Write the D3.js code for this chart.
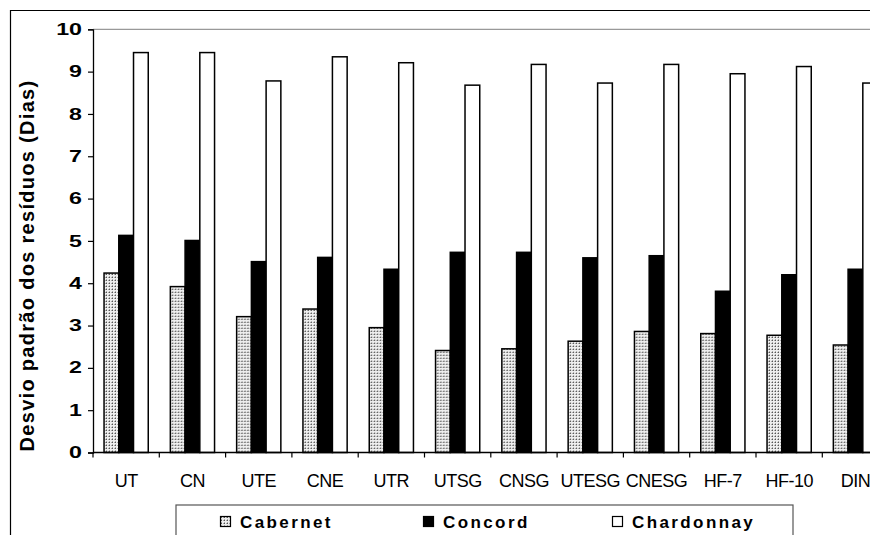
<!DOCTYPE html>
<html>
<head>
<meta charset="utf-8">
<script src="https://cdn.jsdelivr.net/npm/d3@7/dist/d3.min.js"></script>
<style>
  html, body { margin: 0; padding: 0; background: #fff; }
  svg { display: block; font-family: Arial, "Liberation Sans", sans-serif; }
</style>
</head>
<body>
<svg id="chart" width="870" height="535"></svg>
<script>
const categories = ["UT", "CN", "UTE", "CNE", "UTR", "UTSG", "CNSG", "UTESG", "CNESG", "HF-7", "HF-10", "DIN"];
const seriesNames = ["Cabernet", "Concord", "Chardonnay"];
const cabernet   = [4.24, 3.92, 3.21, 3.39, 2.95, 2.41, 2.45, 2.63, 2.86, 2.81, 2.77, 2.54];
const concord    = [5.13, 5.01, 4.51, 4.61, 4.33, 4.73, 4.73, 4.60, 4.65, 3.81, 4.20, 4.33];
const chardonnay = [9.45, 9.45, 8.78, 9.35, 9.21, 8.68, 9.17, 8.73, 9.17, 8.95, 9.12, 8.73];
const yTicks = [0, 1, 2, 3, 4, 5, 6, 7, 8, 9, 10];

const seriesValues = { Cabernet: cabernet, Concord: concord, Chardonnay: chardonnay };
const fills = { Cabernet: "url(#dots)", Concord: "#000", Chardonnay: "#fff" };

const svg = d3.select("#chart");

// pattern for Cabernet
const defs = svg.append("defs");
const pat = defs.append("pattern").attr("id", "dots").attr("patternUnits", "userSpaceOnUse")
  .attr("width", 3).attr("height", 3);
pat.append("rect").attr("width", 3).attr("height", 3).attr("fill", "#eeeeee");
pat.append("rect").attr("x", 1).attr("y", 1).attr("width", 1).attr("height", 1).attr("fill", "#555");
pat.append("rect").attr("x", 0).attr("y", 1).attr("width", 1).attr("height", 1).attr("fill", "#aaa");
pat.append("rect").attr("x", 1).attr("y", 0).attr("width", 1).attr("height", 1).attr("fill", "#aaa");

// outer frame (chart area border)
svg.append("line").attr("x1", 10).attr("x2", 870).attr("y1", 10.5).attr("y2", 10.5)
  .attr("stroke", "#000").attr("stroke-width", 1.2);
svg.append("line").attr("x1", 10.5).attr("x2", 10.5).attr("y1", 10).attr("y2", 535)
  .attr("stroke", "#000").attr("stroke-width", 1.2);

const plotLeft = 93, plotTop = 29.3, plotBottom = 452.5;
const step = 66.3;

const x0 = d3.scaleBand().domain(categories).range([plotLeft, plotLeft + step * categories.length])
  .paddingInner(0).paddingOuter(0);
const x1 = d3.scaleBand().domain(seriesNames).range([0, x0.bandwidth()])
  .paddingInner(0).paddingOuter(0.75);
const y = d3.scaleLinear().domain([0, 10]).range([plotBottom, plotTop]);

// top plot border (gray)
svg.append("line").attr("x1", plotLeft).attr("x2", 870).attr("y1", y(10)).attr("y2", y(10))
  .attr("stroke", "#999").attr("stroke-width", 1.3);

// bars
const groups = svg.append("g").selectAll("g").data(categories).join("g")
  .attr("transform", d => `translate(${x0(d)},0)`);
groups.selectAll("rect")
  .data((c, i) => seriesNames.map(s => ({ s, v: seriesValues[s][i] })))
  .join("rect")
  .attr("x", d => x1(d.s))
  .attr("y", d => y(d.v))
  .attr("width", x1.bandwidth())
  .attr("height", d => y(0) - y(d.v))
  .attr("fill", d => fills[d.s])
  .attr("stroke", "#000")
  .attr("stroke-width", 1.5);

// y axis
const yAxis = d3.axisLeft(y).tickValues(yTicks).tickSize(5).tickPadding(6).tickFormat(d3.format("d"));
const gy = svg.append("g").attr("transform", `translate(${plotLeft},0)`).call(yAxis);
gy.select(".domain").attr("stroke", "#000").attr("stroke-width", 1.3);
gy.selectAll(".tick line").attr("stroke", "#000").attr("stroke-width", 1.2);
const sx = 1.45;
gy.selectAll(".tick text").attr("font-size", 16).attr("font-weight", "bold")
  .attr("font-family", "Arial, 'Liberation Sans', sans-serif").attr("fill", "#000")
  .attr("x", -11 / sx)
  .attr("transform", `scale(${sx},1)`);

// x axis line
svg.append("line").attr("x1", plotLeft).attr("x2", 870).attr("y1", y(0)).attr("y2", y(0))
  .attr("stroke", "#000").attr("stroke-width", 1.3);
// x ticks at band boundaries
const bounds = categories.map(c => x0(c)).concat([x0(categories[categories.length - 1]) + x0.bandwidth()]);
svg.append("g").selectAll("line").data(bounds).join("line")
  .attr("x1", d => d).attr("x2", d => d)
  .attr("y1", y(0)).attr("y2", y(0) + 5)
  .attr("stroke", "#000").attr("stroke-width", 1.2);
// x labels
svg.append("g").selectAll("text").data(categories).join("text")
  .attr("x", d => x0(d) + x0.bandwidth() / 2)
  .attr("y", 487)
  .attr("text-anchor", "middle")
  .attr("font-size", 18)
  .attr("letter-spacing", "-0.5px")
  .attr("fill", "#000")
  .text(d => d);

// y title
svg.append("text")
  .attr("transform", "translate(34,265.5) rotate(-90)")
  .attr("text-anchor", "middle")
  .attr("font-size", 20)
  .attr("font-weight", "bold")
  .attr("letter-spacing", "1.3px")
  .attr("fill", "#000")
  .text("Desvio padrão dos resíduos (Dias)");

// legend
svg.append("rect").attr("x", 176).attr("y", 505).attr("width", 617).attr("height", 40)
  .attr("fill", "#fff").attr("stroke", "#555").attr("stroke-width", 1.2);
const legendX = { Cabernet: 220, Concord: 423, Chardonnay: 612 };
const lg = svg.append("g").selectAll("g").data(seriesNames).join("g")
  .attr("transform", d => `translate(${legendX[d]},0)`);
lg.append("rect").attr("x", 0.5).attr("y", 516.5).attr("width", 10).attr("height", 10)
  .attr("fill", d => fills[d]).attr("stroke", "#000").attr("stroke-width", 1.2);
lg.append("text").attr("x", 20).attr("y", 527.5)
  .attr("font-size", 17).attr("font-weight", "bold").attr("letter-spacing", "2.4px")
  .attr("fill", "#000")
  .text(d => d);
</script>
</body>
</html>
